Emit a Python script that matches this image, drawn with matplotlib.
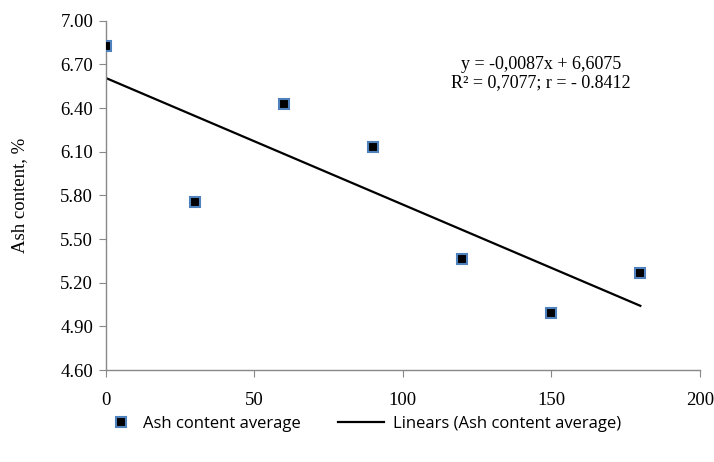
import numpy as np
import matplotlib
matplotlib.use("Agg")
import matplotlib.pyplot as plt

# Ash content vs time
days = [0, 30, 60, 90, 120, 150, 180]
ash_avg = [6.83, 5.755, 6.43, 6.13, 5.36, 4.99, 5.27]
y_ticks = [4.60, 4.90, 5.20, 5.50, 5.80, 6.10, 6.40, 6.70, 7.00]
x_ticks = [0, 50, 100, 150, 200]

slope, intercept = -0.0087, 6.6075

fig = plt.figure(figsize=(7.14, 4.62), dpi=100)
ax = fig.add_axes([0.148, 0.199, 0.832, 0.756])

serif = "Liberation Serif"
sans = "Open Sans"

pts, = ax.plot(days, ash_avg, linestyle="none", marker="s", markersize=7.5,
               markerfacecolor="black", markeredgecolor="#4F81BD", markeredgewidth=1.5,
               label="Ash content average", zorder=3)

fit_x = np.array([days[0], days[-1]])
trend, = ax.plot(fit_x, slope * fit_x + intercept, color="black", linewidth=1.6,
                 label="Linears (Ash content average)")

ax.set_xlim(0, 200)
ax.set_ylim(4.60, 7.00)
ax.set_xticks(x_ticks)
ax.set_yticks(y_ticks)
ax.set_yticklabels([f"{v:.2f}" for v in y_ticks], fontfamily=serif, fontsize=13.5)
ax.set_xticklabels([str(v) for v in x_ticks], fontfamily=serif, fontsize=13.5)
ax.tick_params(axis="both", direction="out", length=5, color="#888888", pad=4)
ax.tick_params(axis="x", pad=11)

for side in ("top", "right"):
    ax.spines[side].set_visible(False)
for side in ("left", "bottom"):
    ax.spines[side].set_color("#888888")
    ax.spines[side].set_linewidth(1.0)

ax.set_ylabel("Ash content, %", fontfamily=serif, fontsize=13.5, labelpad=23)

ax.text(0.733, 0.849, "y = -0,0087x + 6,6075\nR² = 0,7077; r = - 0.8412",
        transform=ax.transAxes, ha="center", va="center", fontfamily=serif,
        fontsize=13, linespacing=1.1)

# two legend pieces so the marker and the line can have different handle widths
leg1 = fig.legend(handles=[pts], loc="center left", bbox_to_anchor=(0.158, 0.082),
                  frameon=False, prop={"family": sans, "size": 12},
                  handlelength=1.0, handletextpad=0.8, borderpad=0, borderaxespad=0)
leg2 = fig.legend(handles=[trend], loc="center left", bbox_to_anchor=(0.473, 0.082),
                  frameon=False, prop={"family": sans, "size": 12},
                  handlelength=2.8, handletextpad=0.5, borderpad=0, borderaxespad=0)

fig.savefig("out.png", dpi=100)
